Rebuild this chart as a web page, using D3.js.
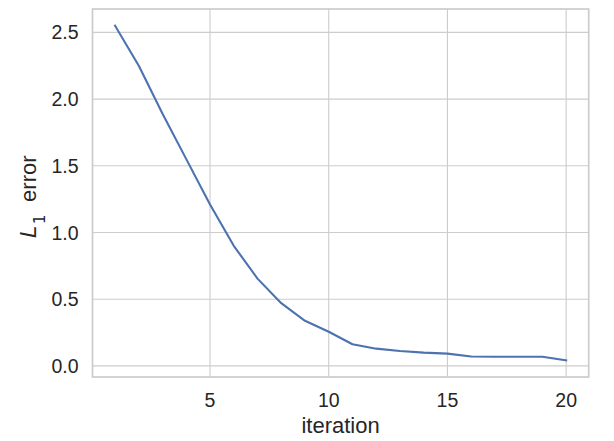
<!DOCTYPE html>
<html>
<head>
<meta charset="utf-8">
<script src="https://cdn.jsdelivr.net/npm/d3@7"></script>
<style>
  body { margin: 0; background: #fff; }
  text { font-family: "Liberation Sans", Arial, sans-serif; fill: #262626; }
</style>
</head>
<body>
<svg id="canvas" width="614" height="441"></svg>
<script>
const iterazioni = d3.range(1, 21);
const errori = [2.55, 2.25, 1.89, 1.55, 1.21, 0.90, 0.654, 0.47, 0.338, 0.256,
  0.162, 0.129, 0.112, 0.099, 0.092, 0.070, 0.068, 0.068, 0.068, 0.042];
const tickX = [5, 10, 15, 20];
const tickY = [0, 0.5, 1.0, 1.5, 2.0, 2.5];

const svg = d3.select("#canvas");
const margine = { left: 92.5, right: 25.3, top: 9, bottom: 64 };
const larghezza = 614, altezza = 441;

const dati = iterazioni.map((x, i) => ({ x: x, y: errori[i] }));

// margini del 5% come matplotlib
const [x0, x1] = d3.extent(iterazioni);
const [y0, y1] = d3.extent(errori);
const padX = (x1 - x0) * 0.05, padY = (y1 - y0) * 0.05;

const scalaX = d3.scaleLinear()
  .domain([x0 - padX, x1 + padX])
  .range([margine.left, larghezza - margine.right]);
const scalaY = d3.scaleLinear()
  .domain([y0 - padY, y1 + padY])
  .range([altezza - margine.bottom, margine.top]);

// griglia
svg.append("g").selectAll("line")
  .data(tickX).enter().append("line")
  .attr("x1", d => scalaX(d)).attr("x2", d => scalaX(d))
  .attr("y1", margine.top).attr("y2", altezza - margine.bottom)
  .attr("stroke", "#cccccc").attr("stroke-width", 1.1);
svg.append("g").selectAll("line")
  .data(tickY).enter().append("line")
  .attr("x1", margine.left).attr("x2", larghezza - margine.right)
  .attr("y1", d => scalaY(d)).attr("y2", d => scalaY(d))
  .attr("stroke", "#cccccc").attr("stroke-width", 1.1);

// linea
const linea = d3.line().x(d => scalaX(d.x)).y(d => scalaY(d.y));
svg.append("path")
  .datum(dati)
  .attr("d", linea)
  .attr("fill", "none")
  .attr("stroke", "#4c72b0")
  .attr("stroke-width", 2.1)
  .attr("stroke-linejoin", "round")
  .attr("stroke-linecap", "square");

// bordo
svg.append("rect")
  .attr("x", margine.left).attr("y", margine.top)
  .attr("width", larghezza - margine.left - margine.right)
  .attr("height", altezza - margine.top - margine.bottom)
  .attr("fill", "none").attr("stroke", "#cccccc").attr("stroke-width", 1.7);

// etichette tick
svg.append("g").selectAll("text")
  .data(tickX).enter().append("text")
  .attr("x", d => scalaX(d)).attr("y", 407)
  .attr("text-anchor", "middle")
  .style("font-size", "19.5px")
  .text(d => d);
svg.append("g").selectAll("text")
  .data(tickY).enter().append("text")
  .attr("x", 78.5).attr("y", d => scalaY(d))
  .attr("dy", "0.36em")
  .attr("text-anchor", "end")
  .style("font-size", "19.5px")
  .text(d => d.toFixed(1));

// titoli assi
svg.append("text")
  .attr("x", (margine.left + larghezza - margine.right) / 2).attr("y", 432.5)
  .attr("text-anchor", "middle")
  .style("font-size", "22px")
  .text("iteration");

// L_1 error, in verticale
const etichettaY = svg.append("text")
  .attr("transform", "translate(36,238) rotate(-90)")
  .attr("text-anchor", "start")
  .style("font-size", "22px");
etichettaY.append("tspan")
  .style("font-family", "DejaVu Sans").style("font-style", "italic")
  .text("L");
etichettaY.append("tspan")
  .attr("dx", 1.5).attr("dy", 9)
  .style("font-family", "DejaVu Sans").style("font-size", "15.4px")
  .text("1");
etichettaY.append("tspan")
  .attr("dx", 6.4).attr("dy", -9)
  .text(" error");
</script>
</body>
</html>
